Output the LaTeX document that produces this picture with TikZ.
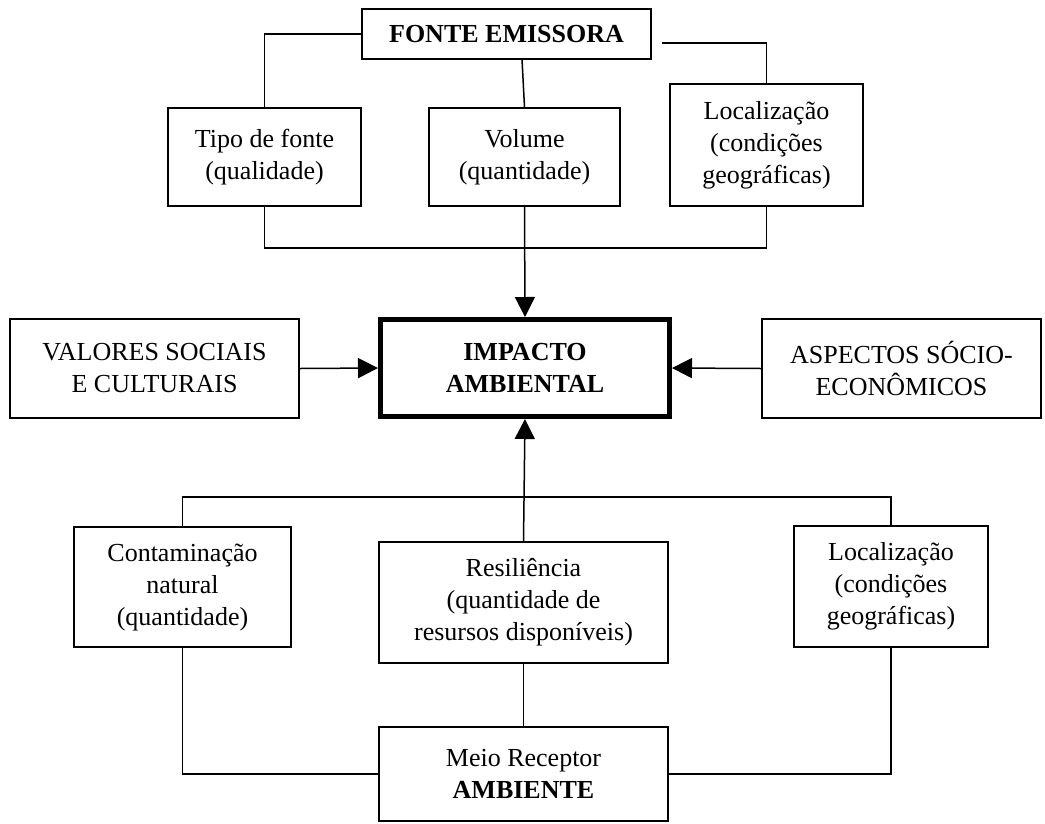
\documentclass[tikz,border=0pt]{standalone}
\usepackage{fontspec}
\setmainfont{Liberation Serif}
\usetikzlibrary{arrows.meta}
\begin{document}
\begin{tikzpicture}[x=1pt,y=-1pt,
  box/.style={draw, line width=1.5pt, align=center, inner sep=0pt, font=\fontsize{26}{32}\selectfont},
  link/.style={line width=1.5pt},
  arr/.style={line width=1.5pt, -{Triangle[length=20pt,width=20pt]}}]
\useasboundingbox (0,0) rectangle (1045,823);
% top group
\node[box, minimum width=289pt, minimum height=50pt] (fonte) at (506.5,34) {\textbf{FONTE EMISSORA}};
\node[box, minimum width=193pt, minimum height=98pt] (tipo) at (264.5,157) {Tipo de fonte\\(qualidade)};
\node[box, minimum width=191pt, minimum height=98pt] (volume) at (524.5,157) {Volume\\(quantidade)};
\node[box, minimum width=193pt, minimum height=122pt] (loca) at (766.5,145) {Localização\\(condições\\geográficas)};
% middle row
\node[box, line width=5pt, minimum width=289pt, minimum height=97pt] (impacto) at (525,368) {\textbf{IMPACTO}\\\textbf{AMBIENTAL}};
\node[box, minimum width=289pt, minimum height=99pt] (valores) at (154.5,368.5) {VALORES SOCIAIS\\E CULTURAIS};
\node[box, minimum width=279pt, minimum height=99pt] (aspectos) at (901.5,368.5) {ASPECTOS SÓCIO-\\ECONÔMICOS};
% bottom group
\node[box, minimum width=217pt, minimum height=120pt] (contam) at (182.5,587) {Contaminação\\natural\\(quantidade)};
\node[box, minimum width=289pt, minimum height=121pt] (resil) at (523.5,602.5) {Resiliência\\(quantidade de\\resursos disponíveis)};
\node[box, minimum width=194pt, minimum height=121pt] (locb) at (891,586.5) {Localização\\(condições\\geográficas)};
\node[box, minimum width=289pt, minimum height=94pt] (meio) at (523.5,774) {Meio Receptor\\\textbf{AMBIENTE}};
% free ends
\coordinate (fr) at (662,43);
\coordinate (fv) at (522,59);
\coordinate (tl) at (264.5,248);
\coordinate (bl) at (182.5,497);
% top connectors
\draw[link] (fonte.west) -| (tipo.north);
\draw[link] (fr) -| (loca.north);
\draw[link] (fv) -- (volume.north);
\draw[link] (tipo.south) -- (tl) -| (loca.south);
\draw[arr] (volume.south) -- (impacto.north);
% side arrows
\draw[arr] (valores.east) -- (impacto.west);
\draw[arr] (aspectos.west) -- (impacto.east);
% bottom connectors
\draw[link] (contam.north) -- (bl) -| (locb.north);
\draw[arr] (resil.north) -- (impacto.south);
\draw[link] (contam.south) |- (meio.west);
\draw[link] (locb.south) |- (meio.east);
\draw[link] (resil.south) -- (meio.north);
\end{tikzpicture}
\end{document}
